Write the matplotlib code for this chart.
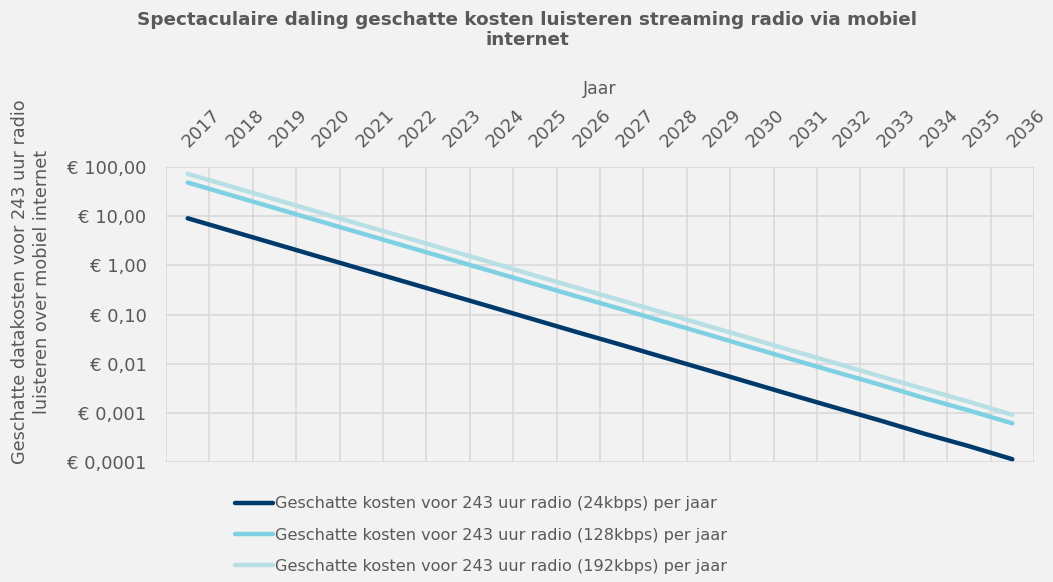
import matplotlib
matplotlib.use("Agg")
import matplotlib.pyplot as plt
import matplotlib.transforms as mtransforms
from matplotlib.ticker import FixedLocator, NullFormatter

years = [str(y) for y in range(2017, 2037)]
kosten_24 = [9.06, 5.0, 2.76, 1.52, 0.84, 0.465, 0.257, 0.142, 0.078, 0.043,
             0.024, 0.0132, 0.0073, 0.0040, 0.0022, 0.00122, 0.00068, 0.00037, 0.00021, 0.000114]
kosten_128 = [48.3, 26.7, 14.7, 8.1, 4.48, 2.48, 1.37, 0.757, 0.416, 0.229,
              0.128, 0.0704, 0.0389, 0.0213, 0.0117, 0.0065, 0.00363, 0.00197, 0.00112, 0.00061]
kosten_192 = [72.5, 40.0, 22.1, 12.2, 6.7, 3.72, 2.06, 1.14, 0.62, 0.344,
              0.192, 0.106, 0.058, 0.032, 0.0176, 0.0098, 0.0054, 0.0030, 0.00168, 0.00091]
labels = ["Geschatte kosten voor 243 uur radio (24kbps) per jaar",
          "Geschatte kosten voor 243 uur radio (128kbps) per jaar",
          "Geschatte kosten voor 243 uur radio (192kbps) per jaar"]
ytick_vals = [0.0001, 0.001, 0.01, 0.1, 1, 10, 100]
ytick_labels = ["€ 0,0001", "€ 0,001", "€ 0,01", "€ 0,10", "€ 1,00", "€ 10,00", "€ 100,00"]

colors = ["#003A6B", "#7ED0E2", "#B8E0E4"]
bg = "#F2F2F2"
txt = "#595959"
grid = "#D9D9D9"

plt.rcParams['font.family'] = ['DejaVu Sans']

fig = plt.figure(figsize=(10.53, 5.82), dpi=100, facecolor=bg)
ax = fig.add_axes([166/1053, 1-462/582, (1034-166)/1053, (462-167)/582])
ax.set_facecolor(bg)

x = list(range(len(years)))
for vals, c, lab in zip([kosten_24, kosten_128, kosten_192], colors, labels):
    ax.plot(x, vals, color=c, lw=3.2, solid_capstyle='round', label=lab)

ax.set_yscale('log')
ax.set_ylim(0.0001, 100)
ax.set_xlim(-0.5, len(years) - 0.5)
ax.yaxis.set_major_locator(FixedLocator(ytick_vals))
ax.set_yticklabels(ytick_labels)
ax.yaxis.set_minor_formatter(NullFormatter())
ax.yaxis.set_minor_locator(FixedLocator([]))

ax.xaxis.tick_top()
ax.xaxis.set_label_position('top')
ax.set_xticks(x)
ax.set_xticklabels(years, rotation=45, ha='left', va='bottom', rotation_mode='anchor')
ax.set_xticks([i - 0.5 for i in range(len(years) + 1)], minor=True)

ax.tick_params(axis='both', which='both', length=0, colors=txt, labelsize=13)
ax.tick_params(axis='y', pad=14)
ax.tick_params(axis='x', pad=12)
offset = mtransforms.ScaledTranslation(4/100, 0, fig.dpi_scale_trans)
for lab in ax.get_xticklabels():
    lab.set_transform(lab.get_transform() + offset)
ax.grid(True, which='minor', axis='x', color=grid, lw=1.2)
ax.grid(True, which='major', axis='y', color=grid, lw=1.2)
ax.grid(False, which='major', axis='x')
for s in ax.spines.values():
    s.set_visible(False)

ax.set_xlabel("Jaar", color=txt, fontsize=12.5, labelpad=8)

fig.text(527/1053, 1-30/582,
         "Spectaculaire daling geschatte kosten luisteren streaming radio via mobiel\ninternet",
         ha='center', va='center', fontsize=13.2, fontweight='bold', color=txt, linespacing=1.15)
fig.text(31/1053, 1-282/582,
         "Geschatte datakosten voor 243 uur radio\nluisteren over mobiel internet",
         rotation=90, ha='center', va='center', fontsize=12.7, color=txt, linespacing=1.25)

leg = fig.legend(loc='upper left', bbox_to_anchor=(229/1053, 1-490/582), frameon=False,
                 fontsize=11.6, labelcolor=txt, handlelength=2.3, handletextpad=0.15,
                 labelspacing=1.0, borderaxespad=0)

fig.savefig("out.png", dpi=100, facecolor=bg)
